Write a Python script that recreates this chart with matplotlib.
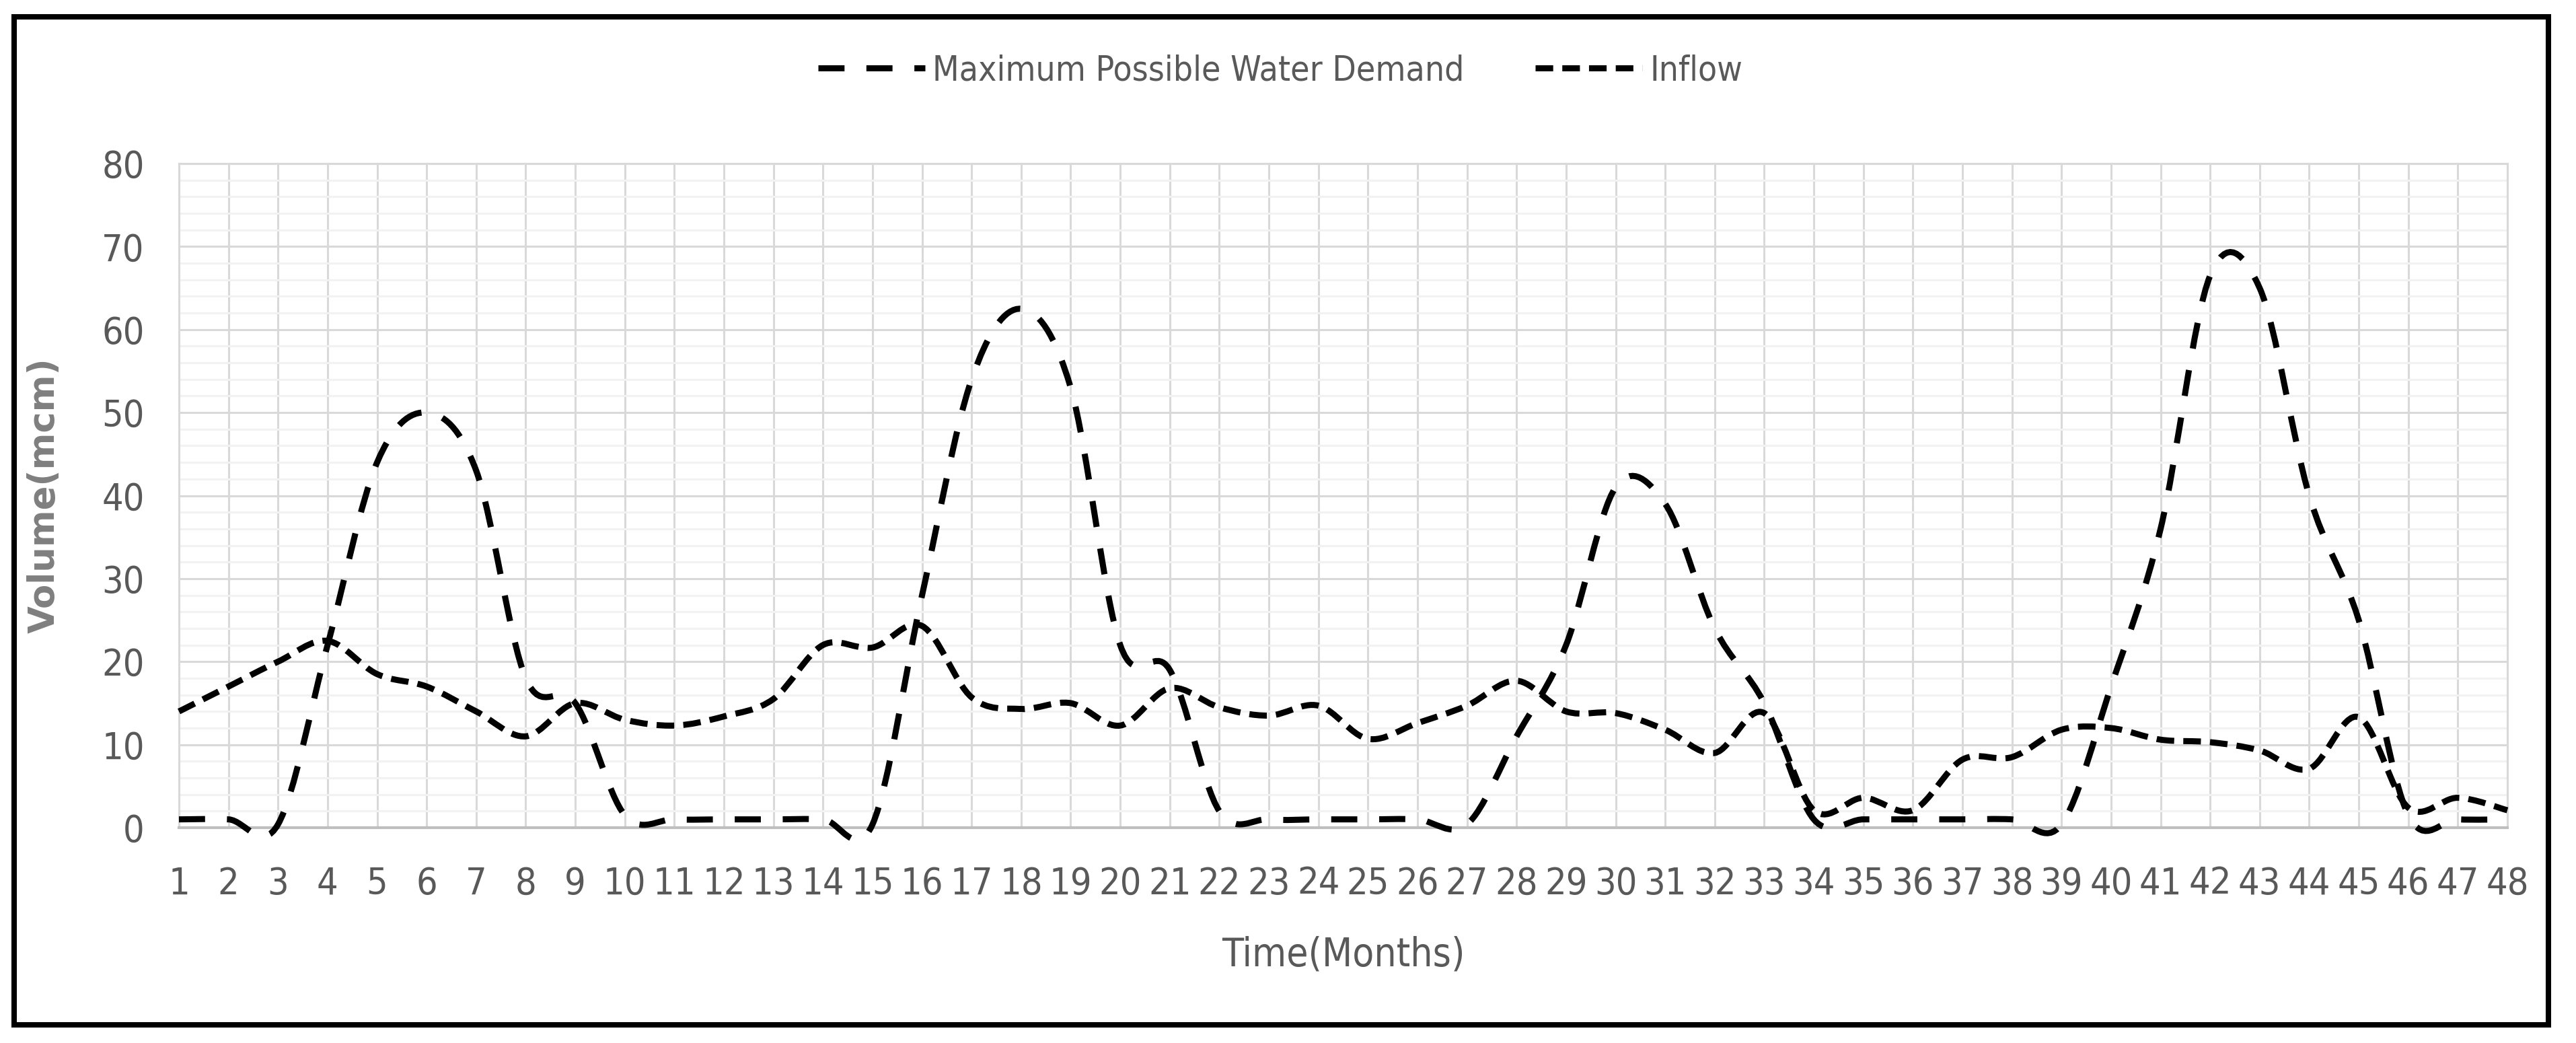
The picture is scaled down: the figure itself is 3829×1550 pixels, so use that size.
import numpy as np
import matplotlib
matplotlib.use("Agg")
import matplotlib.pyplot as plt
from matplotlib import font_manager as fm
from matplotlib.path import Path
from matplotlib.patches import PathPatch, Rectangle
from matplotlib.lines import Line2D

months = list(range(1, 49))
demand = [1, 1, 0.4, 22, 44, 50, 43, 18, 15, 1.5, 1, 1, 1, 1, 0.4, 28,
          54, 62.5, 53, 22, 19, 2, 1, 1, 1, 1, 0.4, 11, 22, 41, 39, 24,
          15, 1, 1, 1, 1, 1, 0.4, 17, 36, 66.5, 65, 40, 25, 1.5, 1, 1]
inflow = [14, 17, 20, 22.5, 18.5, 17, 14, 11, 15, 13, 12.3, 13.4, 15.5, 22, 21.7, 24.3,
          15.7, 14.3, 15, 12.3, 16.8, 14.5, 13.5, 14.7, 10.7, 12.6, 14.7, 17.7, 14, 13.8, 11.8, 9,
          13.8, 2.1, 3.6, 2.1, 8.2, 8.5, 11.8, 12, 10.6, 10.3, 9.3, 7.1, 13.3, 2.4, 3.6, 2.1]
series_names = ['Maximum Possible Water Demand', 'Inflow']
x_title = 'Time(Months)'
y_title = 'Volume(mcm)'

LW = 6.5
DEMAND_DASH = (0, (4.3, 3.6))
INFLOW_DASH = (0, (2.9, 1.5))
TICK_COLOR = '#595959'


def narrow_font():
    # look for a condensed / narrow regular face, like the Calibri-ish text in the chart
    fonts = fm.fontManager.ttflist
    def regular(f):
        low = f.fname.lower()
        return f.weight in (400, 'normal', 'regular') and f.style == 'normal' \
            and 'bold' not in low and 'italic' not in low and 'oblique' not in low
    for key in ['liberationsansnarrow-regular', 'dejavusanscondensed.', 'condensed', 'narrow']:
        for f in fonts:
            if key in f.fname.lower().replace(' ', '') and regular(f):
                return f.fname
    return None


narrow_path = narrow_font()


def label_font(size):
    if narrow_path:
        return fm.FontProperties(fname=narrow_path, size=size)
    return fm.FontProperties(family='Liberation Sans', size=size * 0.88)


def smooth_path(x, y):
    # Excel-like smoothed line: cubic Bezier segments through every point
    pts = np.column_stack([x, y]).astype(float)
    n = len(pts)
    verts = [pts[0]]
    codes = [Path.MOVETO]
    for i in range(n - 1):
        p0 = pts[i - 1] if i > 0 else pts[i]
        p1, p2 = pts[i], pts[i + 1]
        p3 = pts[i + 2] if i + 2 < n else pts[i + 1]
        verts += [p1 + (p2 - p0) / 6, p2 - (p3 - p1) / 6, p2]
        codes += [Path.CURVE4] * 3
    return Path(verts, codes)


fig = plt.figure(figsize=(38.3, 15.5), dpi=100)
ax = fig.add_axes([266 / 3830, 1 - 1230 / 1550, 3461 / 3830, 987 / 1550])

for vals, dash in [(demand, DEMAND_DASH), (inflow, INFLOW_DASH)]:
    patch = PathPatch(smooth_path(months, vals), fill=False, edgecolor='black',
                      linewidth=LW, linestyle=dash, capstyle='butt', zorder=3)
    patch.set_clip_on(False)
    ax.add_patch(patch)

ax.set_xlim(1, 48)
ax.set_ylim(0, 80)
ax.set_xticks(months)
ax.set_yticks(range(0, 81, 10))
ax.set_yticks(range(0, 81, 2), minor=True)
ax.set_axisbelow(True)
ax.grid(which='minor', axis='y', color='#f2f2f2', linewidth=2.2)
ax.grid(which='major', color='#d9d9d9', linewidth=2.2)

for side in ['left', 'top', 'right']:
    ax.spines[side].set_color('#d9d9d9')
    ax.spines[side].set_linewidth(2.2)
ax.spines['bottom'].set_color('#bfbfbf')
ax.spines['bottom'].set_linewidth(3)

ax.tick_params(axis='both', which='both', length=0, labelcolor=TICK_COLOR)
ax.tick_params(axis='x', pad=41)
ax.tick_params(axis='y', pad=37)
tick_fp = label_font(40)
for lbl in ax.get_xticklabels() + ax.get_yticklabels():
    lbl.set_fontproperties(tick_fp)

ax.set_xlabel(x_title, fontproperties=label_font(42), color=TICK_COLOR, va='center')
ax.xaxis.set_label_coords(0.5, -0.1915)
ax.set_ylabel(y_title, fontsize=38, color='#7f7f7f', fontweight='bold',
              family=['DejaVu Sans'], va='center')
ax.yaxis.set_label_coords(-0.0578, 0.5)

handles = [Line2D([], [], color='black', lw=LW, linestyle=DEMAND_DASH, dash_capstyle='butt'),
           Line2D([], [], color='black', lw=LW, linestyle=INFLOW_DASH, dash_capstyle='butt')]
leg = fig.legend(handles, series_names, loc='center', bbox_to_anchor=(0.4969, 1 - 105 / 1550),
                 ncol=2, frameon=False, prop=label_font(37), handlelength=3.1,
                 handletextpad=0.22, columnspacing=2.05)
for t in leg.get_texts():
    t.set_color(TICK_COLOR)

frame = Rectangle((21.5 / 3830, 1 - 1523 / 1550), (3788 - 21.5) / 3830, (1523 - 25) / 1550,
                  transform=fig.transFigure, fill=False, edgecolor='black', linewidth=5.8)
fig.patches.append(frame)

fig.savefig('out.png', dpi=100, facecolor='white')
plt.close(fig)
